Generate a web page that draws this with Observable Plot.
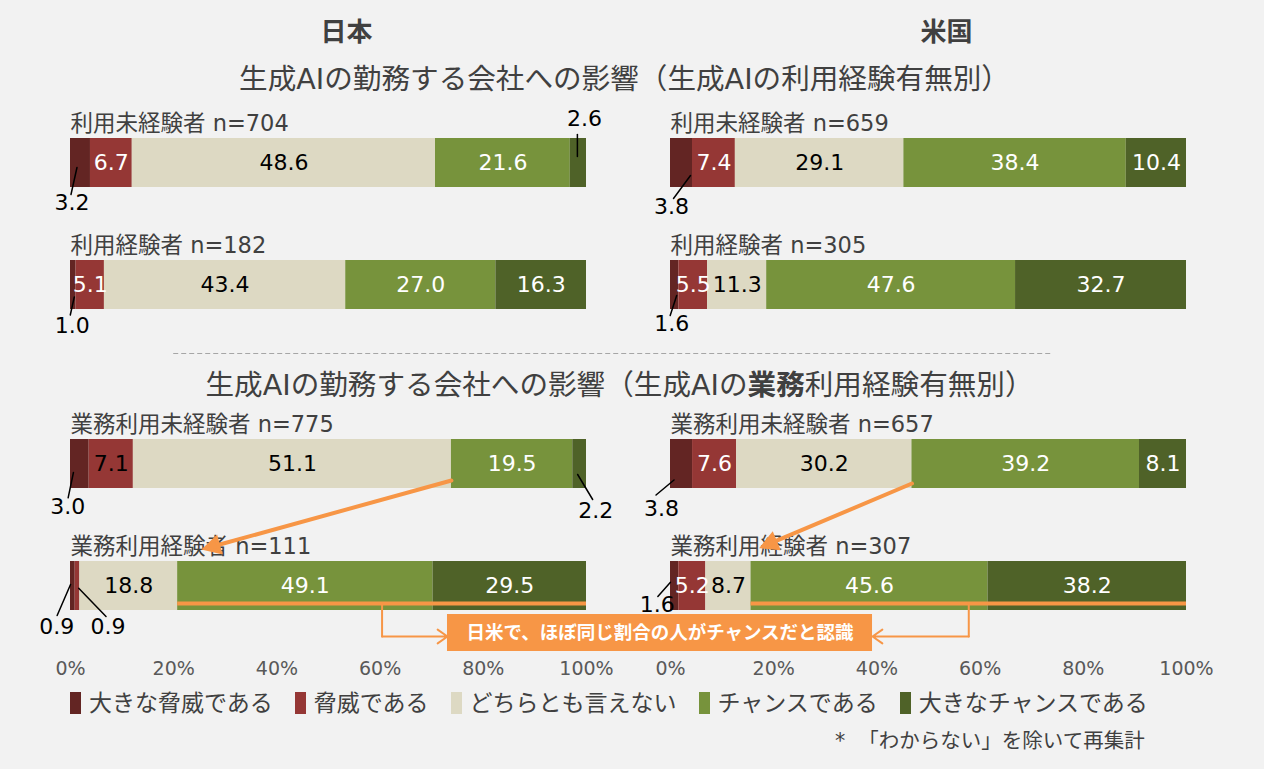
<!DOCTYPE html>
<html>
<head>
<meta charset="utf-8">
<script src="https://cdn.jsdelivr.net/npm/d3@7"></script>
<script src="https://cdn.jsdelivr.net/npm/@observablehq/plot@0.6"></script>
<style>
  body { margin: 0; background: #F2F2F2; }
  #chart svg { display: block; }
  .lg-swatches { margin: 0 0 0 70px !important; font-family: 'DejaVu Sans','Noto Sans CJK JP',sans-serif !important; font-size: 23px !important; color: #404040 !important; height: 26px !important; min-height: 26px !important; line-height: 26px !important; display: flex !important; align-items: center !important; }
  .lg-swatch { margin-right: 22px !important; }
  .lg-swatch > svg { margin-right: 8px !important; }
  #note { margin: 13px 0 0 835px; font-family: 'DejaVu Sans','Noto Sans CJK JP',sans-serif; font-size: 20.5px; color: #404040; line-height: 24px; }
</style>
</head>
<body>
<div id="chart"></div>
<script>
// ---------- data ----------
const categories = ["大きな脅威である", "脅威である", "どちらとも言えない", "チャンスである", "大きなチャンスである"];
const colors = ["#632523", "#953735", "#DDD9C3", "#77933C", "#4F6228"];
const countries = ["日本", "米国"];
const sections = ["利用", "業務利用"];
const experience = ["未経験", "経験"];
const useLabels = ["利用未経験者", "利用経験者"];
const workLabels = ["業務利用未経験者", "業務利用経験者"];

const jpUseNon = [3.2, 6.7, 48.6, 21.6, 2.6];
const jpUseExp = [1.0, 5.1, 43.4, 27.0, 16.3];
const jpUseN = [704, 182];
const usUseNon = [3.8, 7.4, 29.1, 38.4, 10.4];
const usUseExp = [1.6, 5.5, 11.3, 47.6, 32.7];
const usUseN = [659, 305];
const jpWorkNon = [3.0, 7.1, 51.1, 19.5, 2.2];
const jpWorkExp = [0.9, 0.9, 18.8, 49.1, 29.5];
const jpWorkN = [775, 111];
const usWorkNon = [3.8, 7.6, 30.2, 39.2, 8.1];
const usWorkExp = [1.6, 5.2, 8.7, 45.6, 38.2];
const usWorkN = [657, 307];

const xTicks = [0, 20, 40, 60, 80, 100];
const countryTitles = ["日本", "米国"];
const title1 = [["生成AIの勤務する会社への影響（生成AIの利用経験有無別）", false]];
const title2 = [["生成AIの勤務する会社への影響（生成AIの", false], ["業務", true], ["利用経験有無別）", false]];
const calloutText = "日米で、ほぼ同じ割合の人がチャンスだと認識";
const noteText = "*\u00a0\u00a0「わからない」を除いて再集計";

// ---------- styles / layout ----------
const FONT = "'DejaVu Sans','Noto Sans CJK JP',sans-serif";
const ORANGE = "#F79646";
const GRAY = "#404040";
const W = 1264, H = 690, ML = 70, MR = 78, MT = 138, MB = 80;

// ---------- build table ----------
const series = [
  {country: "日本", section: "利用", labels: useLabels, n: jpUseN, values: [jpUseNon, jpUseExp]},
  {country: "米国", section: "利用", labels: useLabels, n: usUseN, values: [usUseNon, usUseExp]},
  {country: "日本", section: "業務利用", labels: workLabels, n: jpWorkN, values: [jpWorkNon, jpWorkExp]},
  {country: "米国", section: "業務利用", labels: workLabels, n: usWorkN, values: [usWorkNon, usWorkExp]}
];
const data = [], rows = [];
for (const s of series) {
  s.values.forEach((vals, r) => {
    const total = d3.sum(vals);
    let cum = 0;
    rows.push({country: s.country, section: s.section, exp: experience[r], label: s.labels[r], n: s.n[r]});
    vals.forEach((v, k) => {
      data.push({country: s.country, section: s.section, exp: experience[r], category: categories[k],
        value: v, share: v / total, start: cum / total, end: (cum + v) / total});
      cum += v;
    });
  });
}
const find = (c, s, e, k) => data.find(d => d.country === c && d.section === s && d.exp === e && d.category === k);
const mid = d => (d.start + d.end) / 2;
const fmt = v => v.toFixed(1);

// label placement (styling): which labels sit outside, offsets in px
const darkOnRed = [["日本", "業務利用", "未経験", "脅威である"]];
const isDark = d => d.category === "どちらとも言えない" ||
  darkOnRed.some(([c, s, e, k]) => d.country === c && d.section === s && d.exp === e && d.category === k);
const inside = d => d.share >= 0.05;
const outsideLabels = [
  ["日本", "利用", "未経験", "大きな脅威である", [-8.5, 39.5], [-3.5, 4.5, -9.5, 31.5]],
  ["日本", "利用", "未経験", "大きなチャンスである", [6, -44.5], [-1, -28.5, -1, -6.5]],
  ["日本", "利用", "経験", "大きな脅威である", [-1, 41], [1, 12, -3, 30]],
  ["米国", "利用", "未経験", "大きな脅威である", [-10, 43.5], [9, 12.5, -8, 35.5]],
  ["米国", "利用", "経験", "大きな脅威である", [-3, 39], [2, 10.5, -4.5, 30.5]],
  ["日本", "業務利用", "未経験", "大きな脅威である", [-12, 43], [-6.4, 8.5, -11.7, 33.8]],
  ["日本", "業務利用", "未経験", "大きなチャンスである", [16, 47], [-2, 10.5, 13, 35.5]],
  ["日本", "業務利用", "経験", "大きな脅威である", [-16, 40.5], [-2.3, -1.5, -15.7, 29.5]],
  ["日本", "業務利用", "経験", "脅威である", [30.5, 40.5], [1.2, 2.2, 28.5, 30.5]],
  ["米国", "業務利用", "未経験", "大きな脅威である", [-20, 44.5], [-7.5, 16, -25.5, 31]],
  ["米国", "業務利用", "経験", "大きな脅威である", [-17.5, 18.5], [-4.2, -3.8, -16.8, 10.5]]
];
const bigArrows = [
  {country: "日本", dy: 16.5, vec: [-246, 68]},
  {country: "米国", dy: 19.5, vec: [-149, 63]}
];
const callout = {x1: 0.7306, x2: 1.5543, edge: {"日本": 0.7306, "米国": 0.3915}};

const lineShape = {draw(ctx, l) { ctx.moveTo(0, 0); ctx.lineTo(0, -l); }};
const headShape = (w, h) => ({draw(ctx, l) {
  ctx.moveTo(0, 0); ctx.lineTo(0, -l + h);
  ctx.moveTo(-w, -l + h); ctx.lineTo(0, -l); ctx.lineTo(w, -l + h); ctx.closePath();
}});
const deg = (dx, dy) => Math.atan2(dx, -dy) * 180 / Math.PI;

const F = {fx: "country", fy: "section"};
const stack = o => Plot.stackX({x: "value", y: "exp", z: "category", ...F, offset: "normalize", ...o});

// heading parts measured to center composite titles
const ctx = document.createElement("canvas").getContext("2d");
const HS = 28.6;
const measure = (t, size, bold) => { ctx.font = `${bold ? "bold " : ""}${size}px ${FONT}`; return ctx.measureText(t).width; };
const headingMarks = [];
[[title1, "利用", -58.5, 624], [title2, "業務利用", -53.5, 619]].forEach(([parts, sec, dy, cx]) => {
  const ws = parts.map(([t, b]) => measure(t, HS, b));
  let off = cx - ML - d3.sum(ws) / 2;
  parts.forEach(([t, b], i) => {
    headingMarks.push(Plot.text([{country: "日本", section: sec}], {
      ...F, frameAnchor: "top-left", textAnchor: "start", lineAnchor: "middle", dx: off, dy, text: () => t,
      fontSize: HS, fontWeight: b ? "bold" : "normal", fill: GRAY
    }));
    off += ws[i];
  });
});

const greens = countries.map(c => find(c, "業務利用", "経験", "チャンスである"));
const greensTop = countries.map(c => find(c, "業務利用", "未経験", "チャンスである"));
const calloutRow = {country: "日本", section: "業務利用", exp: "経験"};

const plot = Plot.plot({
  width: W, height: H,
  marginLeft: ML, marginRight: MR, marginTop: MT, marginBottom: MB,
  style: {background: "#F2F2F2", fontFamily: FONT, overflow: "visible"},
  x: {domain: [0, 1]},
  y: {domain: experience, axis: null, paddingInner: 0.5984, paddingOuter: 0},
  fx: {domain: countries, axis: null, paddingInner: 0.14, paddingOuter: 0},
  fy: {domain: sections, axis: null, paddingInner: 0.4319, paddingOuter: 0},
  color: {domain: categories, range: colors},
  marks: [
    // titles
    Plot.text(countryTitles.map(c => ({country: c, section: "利用"})), {
      ...F, frameAnchor: "top", lineAnchor: "middle", dx: 18, dy: -105.5, text: "country", fontSize: 26, fontWeight: "bold", fill: GRAY
    }),
    ...headingMarks,
    Plot.ruleY([{country: "日本", section: "業務利用", exp: "未経験"}], {
      ...F, y: "exp", x1: 0.2, x2: 1.9, dy: -110.5, stroke: "#A6A6A6", strokeWidth: 1.2, strokeDasharray: "5 3"
    }),
    // row labels
    Plot.text(rows, {
      ...F, y: "exp", frameAnchor: "left", textAnchor: "start", dy: -39.5,
      text: d => `${d.label} n=${d.n}`, fontSize: 22.5, fill: GRAY
    }),
    // bars
    Plot.barX(data, stack({fill: "category"})),
    // inside labels
    Plot.text(data, stack({text: d => inside(d) && !isDark(d) ? fmt(d.value) : null, fill: "white", fontSize: 22})),
    Plot.text(data, stack({text: d => inside(d) && isDark(d) ? fmt(d.value) : null, fill: "black", fontSize: 22})),
    // outside labels with leader lines
    ...outsideLabels.flatMap(([c, s, e, k, lab, ln]) => {
      const d = find(c, s, e, k);
      const ddx = ln[2] - ln[0], ddy = ln[3] - ln[1];
      return [
        Plot.vector([d], {x: mid, y: "exp", ...F, anchor: "start", dx: ln[0], dy: ln[1],
          length: Math.hypot(ddx, ddy), rotate: deg(ddx, ddy), shape: lineShape, stroke: "black", strokeWidth: 1.5}),
        Plot.text([d], {x: mid, y: "exp", ...F, dx: lab[0], dy: lab[1], text: d => fmt(d.value), fontSize: 22, fill: "black"})
      ];
    }),
    // orange annotations
    ...bigArrows.map(a => Plot.vector(greensTop.filter(d => d.country === a.country), {
      x: "start", y: "exp", ...F, anchor: "start", dy: a.dy, length: Math.hypot(...a.vec), rotate: deg(...a.vec),
      shape: headShape(7, 13), stroke: ORANGE, fill: ORANGE, strokeWidth: 4, strokeLinejoin: "miter"
    })),
    Plot.ruleY(greens, {x1: "start", x2: 1, y: "exp", ...F, dy: 17.5, stroke: ORANGE, strokeWidth: 4}),
    Plot.vector(greens, {x: d => (d.start + 1) / 2, y: "exp", ...F, anchor: "start", dy: 17.5, length: 33, rotate: 180,
      shape: lineShape, stroke: ORANGE, strokeWidth: 2}),
    Plot.arrow(greens, {x1: d => (d.start + 1) / 2, x2: d => callout.edge[d.country], y1: "exp", y2: "exp", ...F,
      dy: 50.5, stroke: ORANGE, strokeWidth: 2, headLength: 9, headAngle: 70}),
    Plot.barX([calloutRow], {x1: callout.x1, x2: callout.x2, y: "exp", ...F, dy: 53, insetBottom: 12, fill: ORANGE}),
    Plot.text([calloutRow], {x: (callout.x1 + callout.x2) / 2, y: "exp", ...F, dy: 47.5, text: () => calloutText,
      fill: "white", fontWeight: "bold", fontSize: 18.5}),
    // axis
    Plot.axisX({ticks: xTicks.map(t => t / 100), tickFormat: d => `${Math.round(d * 100)}%`, tickSize: 0,
      tickPadding: 51, fontSize: 19, color: "#595959", label: null})
  ]
});

const chart = document.getElementById("chart");
chart.appendChild(plot);
chart.appendChild(plot.legend("color", {swatchWidth: 11, swatchHeight: 22, className: "lg"}));
const note = document.createElement("div");
note.id = "note";
note.textContent = noteText;
chart.appendChild(note);
</script>
</body>
</html>
